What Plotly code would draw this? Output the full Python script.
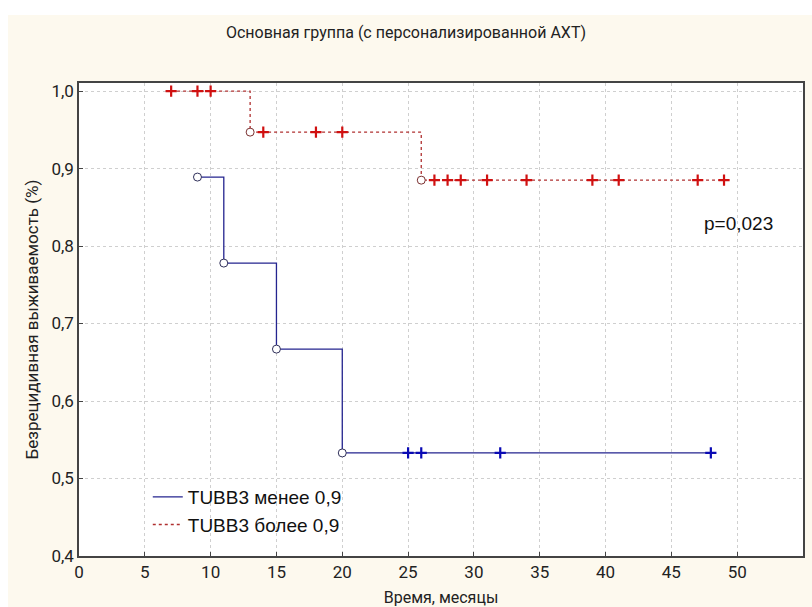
import plotly.graph_objects as go

# Data
low_event_t = [9, 11, 15, 20]
low_event_s = [0.889, 0.778, 0.667, 0.533]
low_line_t = [9, 11, 15, 20, 48]
low_line_s = [0.889, 0.778, 0.667, 0.533, 0.533]
low_cens_t = [25, 26, 32, 48]
low_cens_s = [0.533, 0.533, 0.533, 0.533]

high_line_t = [7, 13, 26, 49]
high_line_s = [1.0, 0.947, 0.885, 0.885]
high_event_t = [13, 26]
high_event_s = [0.947, 0.885]
high_cens_t = [7, 9, 10, 14, 18, 20, 27, 28, 29, 31, 34, 39, 41, 47, 49]
high_cens_s = [1.0, 1.0, 1.0, 0.947, 0.947, 0.947,
               0.885, 0.885, 0.885, 0.885, 0.885, 0.885, 0.885, 0.885, 0.885]

x_ticks = list(range(0, 56, 5))
y_ticks = [0.4, 0.5, 0.6, 0.7, 0.8, 0.9, 1.0]

BLUE_LINE = "#24248f"
BLUE_MARK = "#0a0ab4"
RED_LINE = "#b03030"
RED_MARK = "#d01010"
FONT = "Roboto, Liberation Sans, Arial, sans-serif"
FONT2 = "Liberation Sans, Arial, sans-serif"

fig = go.Figure()
fig.add_trace(go.Scatter(x=low_line_t, y=low_line_s, mode="lines",
                         line=dict(shape="hv", color=BLUE_LINE, width=1.3),
                         name="TUBB3 менее 0,9"))
fig.add_trace(go.Scatter(x=high_line_t, y=high_line_s, mode="lines",
                         line=dict(shape="hv", color=RED_LINE, width=1.3, dash="dot"),
                         name="TUBB3 более 0,9"))
fig.add_trace(go.Scatter(x=low_cens_t, y=low_cens_s, mode="markers", showlegend=False,
                         marker=dict(symbol="cross-thin", size=8,
                                     line=dict(color=BLUE_MARK, width=2.2))))
fig.add_trace(go.Scatter(x=high_cens_t, y=high_cens_s, mode="markers", showlegend=False,
                         marker=dict(symbol="cross-thin", size=8,
                                     line=dict(color=RED_MARK, width=2.2))))
fig.add_trace(go.Scatter(x=low_event_t, y=low_event_s, mode="markers", showlegend=False,
                         marker=dict(symbol="circle", size=8, color="white",
                                     line=dict(color="#30305a", width=1))))
fig.add_trace(go.Scatter(x=high_event_t, y=high_event_s, mode="markers", showlegend=False,
                         marker=dict(symbol="circle", size=8, color="white",
                                     line=dict(color="#7a3030", width=1))))

fig.update_layout(
    width=812, height=607,
    margin=dict(l=79, r=9, t=83, b=51, autoexpand=False),
    paper_bgcolor="#fdf9ee",
    plot_bgcolor="white",
    separators=", ",
    showlegend=True,
    legend=dict(x=0.095, y=0.165, xanchor="left", yanchor="top",
                bgcolor="rgba(0,0,0,0)", font=dict(family=FONT2, size=19, color="#111"),
                tracegroupgap=0, itemwidth=30),
    title=dict(text="Основная группа (с персонализированной АХТ)",
               x=0.5, xanchor="center", y=1 - 32 / 607, yanchor="middle",
               font=dict(family=FONT, size=16, color="#222")),
    shapes=[
        dict(type="rect", xref="paper", yref="paper", x0=-0.12, x1=-0.098, y0=-0.2, y1=1.25,
             fillcolor="white", line=dict(width=0), layer="below"),
        dict(type="rect", xref="paper", yref="paper", x0=-0.12, x1=1.05, y0=1.1438, y1=1.25,
             fillcolor="white", line=dict(width=0), layer="below"),
    ],
    annotations=[
        dict(text="p=0,023", x=52.9, y=0.829, xref="x", yref="y", showarrow=False,
             xanchor="right", yanchor="middle", font=dict(family=FONT2, size=19, color="#111")),
    ],
)
fig.update_xaxes(range=[0, 55], tickvals=x_ticks, ticktext=[str(v) for v in x_ticks],
                 showgrid=True, gridcolor="#cfcfcf", griddash="dot", gridwidth=1,
                 showline=True, linecolor="#444", linewidth=1.5, mirror=True,
                 ticks="inside", ticklen=4, tickcolor="#444", zeroline=False,
                 automargin=False,
                 tickfont=dict(family=FONT, size=17, color="#222"),
                 title=dict(text="Время, месяцы", font=dict(family=FONT, size=16, color="#222"),
                            standoff=12))
fig.update_yaxes(range=[0.4, 1.0104], tickvals=y_ticks,
                 ticktext=[f"{v:.1f}".replace(".", ",") for v in y_ticks],
                 showgrid=True, gridcolor="#cfcfcf", griddash="dot", gridwidth=1,
                 showline=True, linecolor="#444", linewidth=1.5, mirror=True,
                 ticks="inside", ticklen=4, tickcolor="#444", zeroline=False, automargin=False,
                 tickfont=dict(family=FONT, size=17, color="#222"),
                 title=dict(text="Безрецидивная выживаемость (%)",
                            font=dict(family=FONT, size=17, color="#222"), standoff=8))

fig.write_html("out.html")
